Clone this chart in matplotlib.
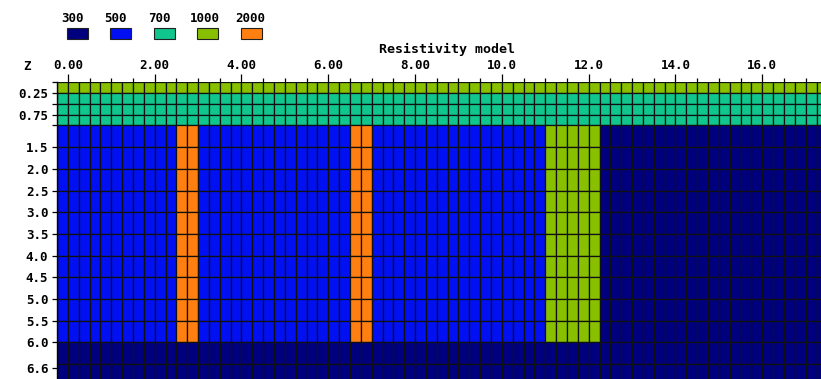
import numpy as np
import matplotlib
matplotlib.use("Agg")
import matplotlib.pyplot as plt
from matplotlib.colors import ListedColormap, BoundaryNorm
from matplotlib.patches import Rectangle
from matplotlib.ticker import MultipleLocator, FixedLocator

# Resistivity classes and their colours
resistivity_levels = [300, 500, 700, 1000, 2000]
level_colors = ["#00007e", "#0010f2", "#10c68c", "#88c000", "#ff8010"]

# Model mesh: column and layer boundaries (x in m, depth z in m)
x_edges = np.arange(-0.25, 17.51, 0.25)
z_edges = [0.0, 0.25, 0.5, 0.75, 1.0, 1.5, 2.0, 2.5, 3.0, 3.5, 4.0,
           4.5, 5.0, 5.5, 6.0, 6.5, 7.0]

# Model blocks: (x_start, x_end, z_top, z_bottom, resistivity), later entries override
background_rho = 300
model_blocks = [
    (-0.25, 17.5, 0.0, 0.25, 1000),
    (-0.25, 17.5, 0.25, 1.0, 700),
    (-0.25, 11.0, 1.0, 6.0, 500),
    (11.0, 12.25, 1.0, 6.0, 1000),
    (2.5, 3.0, 1.0, 6.0, 2000),
    (6.5, 7.0, 1.0, 6.0, 2000),
]

# Axis labelling
x_tick_values = [0, 2, 4, 6, 8, 10, 12, 14, 16]
x_tick_labels = ["0.00", "2.00", "4.00", "6.00", "8.00", "10.0", "12.0", "14.0", "16.0"]
z_tick_values = [0.25, 0.75, 1.5, 2.0, 2.5, 3.0, 3.5, 4.0, 4.5, 5.0, 5.5, 6.0, 6.6]
z_tick_labels = ["0.25", "0.75", "1.5", "2.0", "2.5", "3.0", "3.5", "4.0",
                 "4.5", "5.0", "5.5", "6.0", "6.6"]
z_minor_ticks = [0.0, 0.5, 1.0]

# Fill the mesh from the block list
xc = 0.5 * (x_edges[:-1] + x_edges[1:])
z_arr = np.array(z_edges)
zc = 0.5 * (z_arr[:-1] + z_arr[1:])
rho = np.full((len(zc), len(xc)), background_rho, dtype=float)
for x0, x1, z0, z1, value in model_blocks:
    mask = (zc[:, None] > z0) & (zc[:, None] < z1) & (xc[None, :] > x0) & (xc[None, :] < x1)
    rho[mask] = value

cmap = ListedColormap(level_colors)
bounds = [0] + [(a + b) / 2 for a, b in zip(resistivity_levels[:-1], resistivity_levels[1:])] + [1e6]
norm = BoundaryNorm(bounds, cmap.N)

W, H = 821, 379
fig = plt.figure(figsize=(W / 100, H / 100), dpi=100)

px_per_unit = 43.4
ax_left_px, ax_top_px = 57, 82
ax = fig.add_axes([ax_left_px / W, 0, (W - ax_left_px) / W, (H - ax_top_px) / H])
xmin = -0.25
xmax = xmin + (W - ax_left_px) / px_per_unit
zmax = (H - ax_top_px) / px_per_unit

ax.pcolormesh(x_edges, z_arr, rho, cmap=cmap, norm=norm,
              edgecolors="#101010", linewidth=0.9, antialiased=True)
ax.set_xlim(xmin, xmax)
ax.set_ylim(zmax, 0)

mono = {"family": "DejaVu Sans Mono", "weight": "bold", "size": 9}

# x axis on top
ax.xaxis.tick_top()
ax.set_xticks(x_tick_values)
ax.set_xticklabels(x_tick_labels, fontdict=mono)
ax.xaxis.set_minor_locator(MultipleLocator(0.5))
ax.tick_params(axis="x", which="major", length=5.5, width=0.9, pad=2, direction="out")
ax.tick_params(axis="x", which="minor", length=2.6, width=0.9, direction="out", top=True)

# depth axis
ax.set_yticks(z_tick_values)
ax.set_yticklabels(z_tick_labels, fontdict=mono)
ax.yaxis.set_minor_locator(FixedLocator(z_minor_ticks))
ax.tick_params(axis="y", which="both", length=3.8, width=0.9, pad=2.5, direction="out")

for side in ["right", "bottom", "top"]:
    ax.spines[side].set_visible(False)
ax.spines["left"].set_linewidth(1.0)

fig.text(27 / W, 1 - 67 / H, "Z", ha="center", va="center", **mono)
fig.text(447 / W, 1 - 49.5 / H, "Resistivity model", ha="center", va="center",
         family="DejaVu Sans Mono", weight="bold", size=9.5)

# Colour legend
legend_text_x = [72, 115.5, 159.5, 204.5, 250]
legend_patch_x = [67, 110, 154, 197, 241]
for value, color, tx, px in zip(resistivity_levels, level_colors, legend_text_x, legend_patch_x):
    fig.text(tx / W, 1 - 19 / H, str(value), ha="center", va="center", **mono)
    fig.patches.append(Rectangle((px / W, 1 - 38.5 / H), 21 / W, 10 / H,
                                 transform=fig.transFigure, facecolor=color,
                                 edgecolor="#202020", linewidth=0.8))

fig.savefig("out.png", dpi=100)
